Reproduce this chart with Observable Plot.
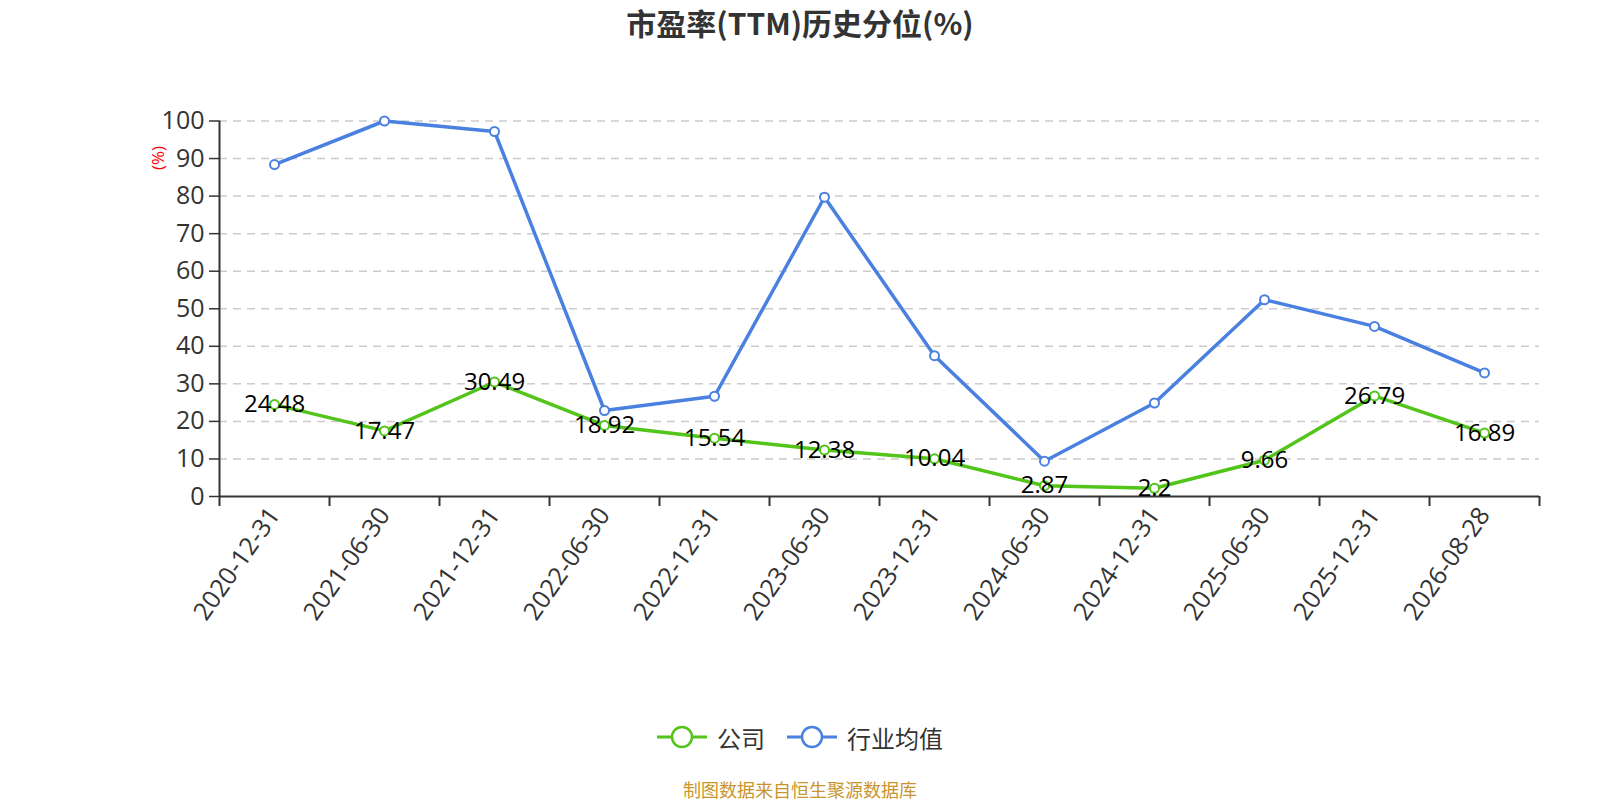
<!DOCTYPE html>
<html>
<head>
<meta charset="utf-8">
<script src="https://cdn.jsdelivr.net/npm/d3@7"></script>
<script src="https://cdn.jsdelivr.net/npm/@observablehq/plot@0.6"></script>
<style>
  html, body { margin: 0; padding: 0; background: #fff; }
  body { width: 1600px; height: 800px; position: relative; overflow: hidden;
         font-family: "Open Sans", "Noto Sans CJK SC", sans-serif; }
  #title { position: absolute; left: 0; top: 0; width: 1600px; height: 45px; line-height: 45px;
           text-align: center; font-size: 30px; font-weight: bold; color: #333;
           font-family: "Noto Sans CJK SC", "Open Sans", sans-serif; }
  #chart { position: absolute; left: 0; top: 45px; }
  #legend { position: absolute; left: 0; top: 720px; width: 1600px; height: 34px;
            display: flex; justify-content: center; align-items: center; gap: 22px;
            font-size: 24px; color: #333; font-family: "Noto Sans CJK SC", sans-serif; }
  .item { display: flex; align-items: center; gap: 10px; }
  #caption { position: absolute; left: 0; top: 776px; width: 1600px; text-align: center;
             font-size: 18px; color: #c9952c; font-family: "Noto Sans CJK SC", sans-serif; }
</style>
</head>
<body>
<div id="title">市盈率(TTM)历史分位(%)</div>
<div id="chart"></div>
<div id="legend"></div>
<div id="caption">制图数据来自恒生聚源数据库</div>
<script>
const dates = ["2020-12-31","2021-06-30","2021-12-31","2022-06-30","2022-12-31","2023-06-30",
               "2023-12-31","2024-06-30","2024-12-31","2025-06-30","2025-12-31","2026-08-28"];
const company = [24.48, 17.47, 30.49, 18.92, 15.54, 12.38, 10.04, 2.87, 2.2, 9.66, 26.79, 16.89];
const industry = [88.4, 100, 97.2, 22.9, 26.7, 79.7, 37.5, 9.4, 24.9, 52.4, 45.3, 32.9];
const yTicks = [0, 10, 20, 30, 40, 50, 60, 70, 80, 90, 100];
const seriesNames = ["公司", "行业均值"];
const colors = ["#52c41a", "#4a80e0"];

const rowsC = dates.map((d, i) => ({i: i + 0.5, date: d, v: company[i]}));
const rowsI = dates.map((d, i) => ({i: i + 0.5, date: d, v: industry[i]}));
const font = "'Open Sans', 'Noto Sans CJK SC', sans-serif";

const plot = Plot.plot({
  width: 1600,
  height: 600,
  marginLeft: 219,
  marginRight: 61,
  marginTop: 75.5,
  marginBottom: 149,
  style: {fontFamily: font, background: "white", overflow: "visible"},
  x: {type: "linear", domain: [0, dates.length], axis: null},
  y: {domain: [0, 100], axis: null},
  marks: [
    Plot.ruleY(yTicks.filter(t => t > 0), {stroke: "#cccccc", strokeWidth: 1.5, strokeDasharray: "8,6"}),
    Plot.axisY({ticks: yTicks, tickSize: 10, tickPadding: 5, fontSize: 25, color: "#333", label: null, strokeWidth: 1.5}),
    Plot.ruleX([0], {y1: 0, y2: 100, stroke: "#333", strokeWidth: 2}),
    Plot.ruleY([0], {stroke: "#333", strokeWidth: 2}),
    Plot.axisX({ticks: d3.range(dates.length + 1), tickSize: 10, tickFormat: () => "", stroke: "#333", strokeWidth: 2, label: null}),
    Plot.axisX({ticks: d3.range(dates.length).map(i => i + 0.5), tickSize: 0, tickPadding: 14,
                tickFormat: t => dates[Math.round(t - 0.5)], tickRotate: -55, fontSize: 25, color: "#333", label: null}),
    Plot.line(rowsC, {x: "i", y: "v", stroke: colors[0], strokeWidth: 3.5}),
    Plot.dot(rowsC, {x: "i", y: "v", r: 4.5, fill: "white", stroke: colors[0], strokeWidth: 2}),
    Plot.line(rowsI, {x: "i", y: "v", stroke: colors[1], strokeWidth: 3.5}),
    Plot.dot(rowsI, {x: "i", y: "v", r: 4.5, fill: "white", stroke: colors[1], strokeWidth: 2}),
    Plot.text(rowsC, {x: "i", y: "v", text: d => String(d.v), fontSize: 24, fill: "black"})
  ]
});
document.getElementById("chart").appendChild(plot);

d3.select(plot).append("text")
  .attr("transform", "translate(157,113) rotate(-90)")
  .attr("text-anchor", "middle").attr("dominant-baseline", "central")
  .attr("fill", "red").attr("font-size", 17).attr("font-family", font)
  .text("(%)");

const legend = d3.select("#legend");
seriesNames.forEach((name, k) => {
  const it = legend.append("div").attr("class", "item");
  const s = it.append("svg").attr("width", 50).attr("height", 26);
  s.append("line").attr("x1", 0).attr("x2", 50).attr("y1", 13).attr("y2", 13)
    .attr("stroke", colors[k]).attr("stroke-width", 3);
  s.append("circle").attr("cx", 25).attr("cy", 13).attr("r", 10)
    .attr("fill", "white").attr("stroke", colors[k]).attr("stroke-width", 2.5);
  it.append("span").text(name);
});
</script>
</body>
</html>
